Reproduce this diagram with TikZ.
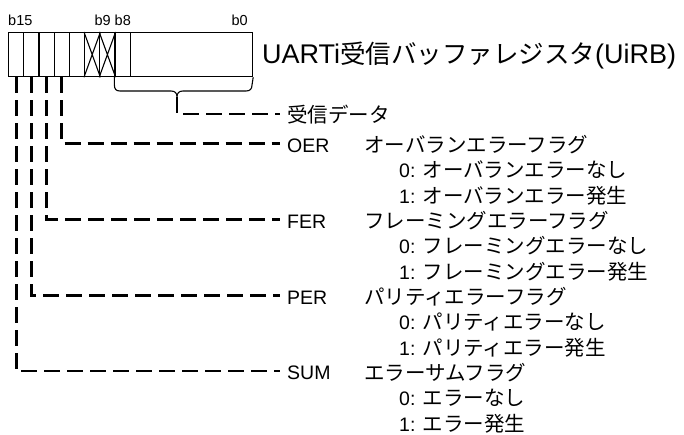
\documentclass[tikz,border=0pt]{standalone}
\usepackage{fontspec}
\setmainfont{Liberation Sans}
\newfontfamily\jpfont{Noto Sans CJK JP}
\newcommand{\jtext}[1]{{\jpfont\fontsize{20.5}{24}\selectfont #1}}
\newcommand{\jtitle}[1]{{\jpfont\fontsize{25.5}{30}\selectfont #1}}
\tikzset{
  cell/.style={draw, line width=1.2pt, minimum width=15.2pt, minimum height=44pt, inner sep=0pt, anchor=north west},
  lead/.style={line width=2.8pt, dash pattern=on 16pt off 7pt},
  bracestroke/.style={line width=1.1pt},
  bitlbl/.style={font=\fontsize{14.5}{16}\selectfont, inner sep=0pt},
  tag/.style={font=\fontsize{19.5}{22}\selectfont, anchor=west, inner ysep=0pt, inner xsep=7pt, text height=17pt, text depth=0pt},
  desc/.style={font=\fontsize{19.5}{22}\selectfont, anchor=base west, inner sep=0pt},
}
\begin{document}
\begin{tikzpicture}[x=1pt,y=-1pt]
\useasboundingbox (0,0) rectangle (684,434);
% register cells
\foreach \i/\b in {0/15,1/14,2/13,3/12,4/11,5/10,6/9,7/8}
  \node[cell] (b\b) at (8+15.2*\i,32) {};
\node[cell, minimum width=122.4pt] (blo) at (129.6,32) {};
\draw[line width=1.1pt] (b10.north west) -- (b10.south east) (b10.south west) -- (b10.north east);
\draw[line width=1.1pt] (b9.north west) -- (b9.south east) (b9.south west) -- (b9.north east);
% bit labels
\node[bitlbl, anchor=base west] (l15) at (8,25) {b15};
\node[bitlbl, anchor=base east] (l9) at (111,25) {b9};
\node[bitlbl, anchor=base west] (l8) at (114.5,25) {b8};
\node[bitlbl, anchor=base east] (l0) at (248,25) {b0};
% title
\node[anchor=base west, inner sep=0pt, font=\fontsize{27}{30}\selectfont] (title) at (262,63) {UARTi\jtitle{受信バッファレジスタ}(UiRB)};
% brace
\coordinate (tip) at (177,97);
\draw[bracestroke] (b8.south west) -- (114.4,85) .. controls (114.4,89) and (116,91) .. (120,91) -- (171,91) .. controls (175,91) and (177,93) .. (tip)
  .. controls (177,93) and (179,91) .. (183,91) -- (246,91) .. controls (250,91) and (252,89) .. (252,85) -- (blo.south east);
% field labels
\node[tag] (rx) at (280,114) {\jtext{受信データ}};
\node[tag] (oer) at (280,143.5) {OER};
\node[tag] (fer) at (280,219.5) {FER};
\node[tag] (per) at (280,295.5) {PER};
\node[tag] (sum) at (280,371) {SUM};
% leaders
\draw[lead] (tip) |- (rx.west);
\draw[lead] (b12.south) |- (oer.west);
\draw[lead] (b13.south) |- (fer.west);
\draw[lead] (b14.south) |- (per.west);
\draw[lead] (b15.south) |- (sum.west);
% descriptions
\node[desc] (oerd) at (364,152) {\jtext{オーバランエラーフラグ}};
\node[desc] (oer0) at (399,177.5) {0: \jtext{オーバランエラーなし}};
\node[desc] (oer1) at (399,203) {1: \jtext{オーバランエラー発生}};
\node[desc] (ferd) at (364,228) {\jtext{フレーミングエラーフラグ}};
\node[desc] (fer0) at (399,253.5) {0: \jtext{フレーミングエラーなし}};
\node[desc] (fer1) at (399,279) {1: \jtext{フレーミングエラー発生}};
\node[desc] (perd) at (364,304) {\jtext{パリティエラーフラグ}};
\node[desc] (per0) at (399,329.5) {0: \jtext{パリティエラーなし}};
\node[desc] (per1) at (399,355) {1: \jtext{パリティエラー発生}};
\node[desc] (sumd) at (364,380) {\jtext{エラーサムフラグ}};
\node[desc] (sum0) at (399,405.5) {0: \jtext{エラーなし}};
\node[desc] (sum1) at (399,431) {1: \jtext{エラー発生}};
\end{tikzpicture}
\end{document}
